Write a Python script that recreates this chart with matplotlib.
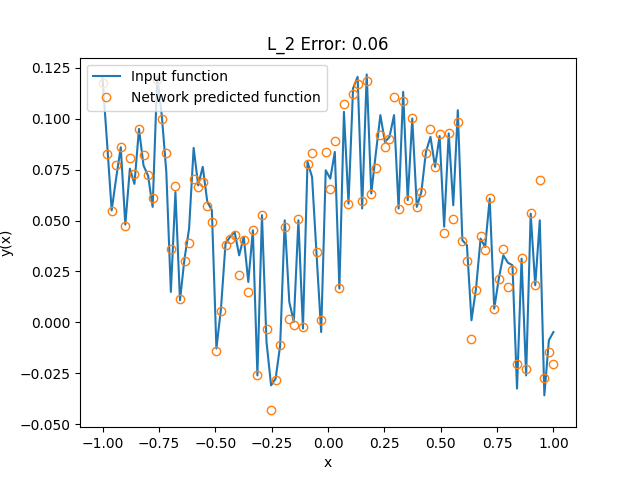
import numpy as np
import matplotlib
matplotlib.use("Agg")
import matplotlib.pyplot as plt


# sample grid: 100 evenly spaced points on [-1, 1]
x = np.linspace(-1.0, 1.0, 100)

# input function
y_input = [
    0.1198, 0.0880, 0.0550, 0.0710, 0.0860, 0.0480, 0.0755, 0.0680, 0.0950, 0.0770,
    0.0720, 0.0567, 0.1206, 0.1018, 0.0739, 0.0149, 0.0640, 0.0108, 0.0313, 0.0460,
    0.0857, 0.0673, 0.0764, 0.0592, 0.0551, -0.0129, 0.0067, 0.0387, 0.0420, 0.0444,
    0.0329, 0.0420, 0.0198, 0.0452, -0.0261, 0.0526, -0.0097, -0.0310, -0.0277, -0.0113,
    0.0501, 0.0100, 0.0002, 0.0501, -0.0031, 0.0788, 0.0714, 0.0329, -0.0048, 0.0747,
    0.0706, 0.0837, 0.0166, 0.1034, 0.0583, 0.1149, 0.1206, 0.0559, 0.1218, 0.0633,
    0.0830, 0.1018, 0.0886, 0.0911, 0.1018, 0.0559, 0.1132, 0.0600, 0.1001, 0.0567,
    0.0641, 0.0837, 0.0911, 0.0764, 0.0915, 0.0470, 0.0928, 0.0575, 0.1042, 0.0403,
    0.0379, 0.0010, 0.0166, 0.0411, 0.0370, 0.0608, 0.0067, 0.0215, 0.0329, 0.0293,
    0.0280, -0.0326, 0.0313, -0.0261, 0.0534, 0.0182, 0.0501, -0.0359, -0.0088, -0.0048,
]

# network prediction at the same points
y_pred = [
    0.1174, 0.0829, 0.0546, 0.0775, 0.0859, 0.0475, 0.0805, 0.0731, 0.0952, 0.0824,
    0.0726, 0.0613, 0.1190, 0.1001, 0.0834, 0.0359, 0.0669, 0.0113, 0.0303, 0.0392,
    0.0703, 0.0665, 0.0687, 0.0572, 0.0495, -0.0143, 0.0057, 0.0382, 0.0411, 0.0428,
    0.0231, 0.0403, 0.0147, 0.0452, -0.0261, 0.0526, -0.0034, -0.0433, -0.0285, -0.0110,
    0.0470, 0.0015, -0.0015, 0.0506, -0.0023, 0.0780, 0.0834, 0.0343, 0.0013, 0.0837,
    0.0654, 0.0893, 0.0166, 0.1075, 0.0579, 0.1120, 0.1169, 0.0595, 0.1185, 0.0628,
    0.0756, 0.0919, 0.0860, 0.0900, 0.1105, 0.0559, 0.1087, 0.0600, 0.1003, 0.0564,
    0.0638, 0.0831, 0.0949, 0.0765, 0.0924, 0.0441, 0.0928, 0.0506, 0.0982, 0.0398,
    0.0300, -0.0084, 0.0161, 0.0423, 0.0354, 0.0613, 0.0064, 0.0215, 0.0362, 0.0172,
    0.0256, -0.0203, 0.0318, -0.0231, 0.0536, 0.0182, 0.0697, -0.0272, -0.0146, -0.0203,
]
l2_error = 0.06

plt.figure(figsize=(6.4, 4.8), dpi=100)
plt.plot(x, y_input, label="Input function")
plt.plot(x, y_pred, "o", mfc="none", color="C1", label="Network predicted function")
plt.legend(loc="upper left")
plt.title(f"L_2 Error: {l2_error:.2f}")
plt.xlabel("x")
plt.ylabel("y(x)")
plt.savefig("out.png")
